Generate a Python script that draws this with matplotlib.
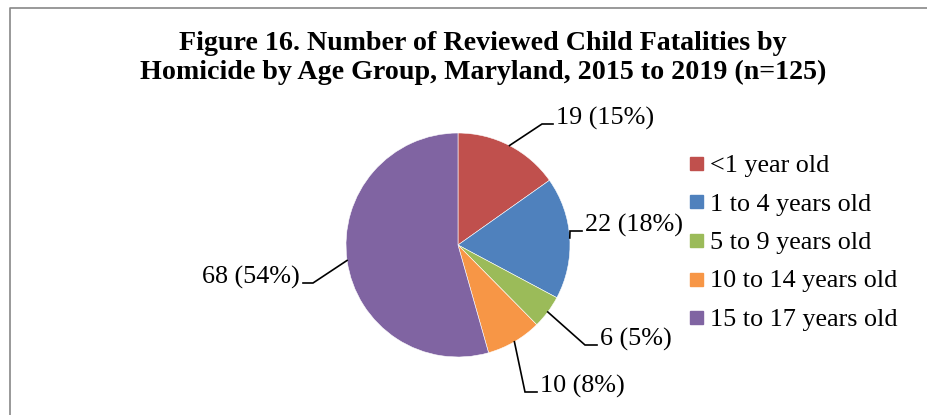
import matplotlib.pyplot as plt
from matplotlib.patches import Rectangle
from matplotlib.lines import Line2D
import numpy as np

# Data
categories = ["<1 year old", "1 to 4 years old", "5 to 9 years old",
              "10 to 14 years old", "15 to 17 years old"]
counts = [19, 22, 6, 10, 68]
percents = [15, 18, 5, 8, 54]
colors = ["#C0504D", "#4F81BD", "#9BBB59", "#F79646", "#8064A2"]

W, H = 928, 415
CX, CY, R = 458, 245, 112   # pie centre / radius in pixels

plt.rcParams['font.family'] = ['Liberation Serif', 'DejaVu Serif']

fig = plt.figure(figsize=(W / 100, H / 100), dpi=100)
ax = fig.add_axes([0, 0, 1, 1])


def px(x, y):
    # pixel position -> data units (pie radius = 1)
    return (x - CX) / R, (CY - y) / R


wedges, _ = ax.pie(counts, colors=colors, startangle=90, counterclock=False,
                   radius=1, center=(0, 0), frame=True,
                   wedgeprops=dict(edgecolor='white', linewidth=0.4))
ax.set_xlim(-CX / R, (W - CX) / R)
ax.set_ylim(-(H - CY) / R, CY / R)
ax.set_aspect('auto')
ax.axis('off')

# leader line layout: elbow point, line end (pixels)
elbows = [(542, 124), (570, 231), (585, 345), (525, 392), (313, 283)]
ends = [(553, 124), (582, 231), (597, 345), (537, 392), (303, 283)]

for w, c, p, el, en in zip(wedges, counts, percents, elbows, ends):
    mid = np.deg2rad((w.theta1 + w.theta2) / 2)
    sx, sy = np.cos(mid), np.sin(mid)
    ex, ey = px(*el)
    nx, ny = px(*en)
    ax.plot([sx, ex, nx], [sy, ey, ny], color='black', lw=1.2,
            solid_joinstyle='miter')
    right = nx > ex
    tx = nx + (0.03 if right else -0.03)
    ax.text(tx, ny + 6 / R, f"{c} ({p}%)", fontsize=18.8,
            ha='left' if right else 'right', va='center')

# legend
leg_y0, leg_dy = 166, 38.5
for i, (lab, col) in enumerate(zip(categories, colors)):
    yy = leg_y0 + i * leg_dy
    x0, y0 = px(690, yy + 4)
    ax.add_patch(Rectangle((x0, y0), 13 / R, 13 / R, color=col))
    tx, ty = px(710, yy)
    ax.text(tx, ty, lab, fontsize=18.8, ha='left', va='center')

# title
fig.text(483 / W, 1 - 58 / H,
         "Figure 16. Number of Reviewed Child Fatalities by\n"
         "Homicide by Age Group, Maryland, 2015 to 2019 (n=125)",
         ha='center', va='center', fontsize=20.2, fontweight='bold',
         linespacing=1.2)

# chart frame (top and left edges only are visible)
fy = 1 - 8 / H
fx = 10 / W
fig.add_artist(Line2D([fx, fx, 1.0], [0, fy, fy], transform=fig.transFigure,
                      color='#878787', lw=1.2))

fig.savefig("out.png", dpi=100)
